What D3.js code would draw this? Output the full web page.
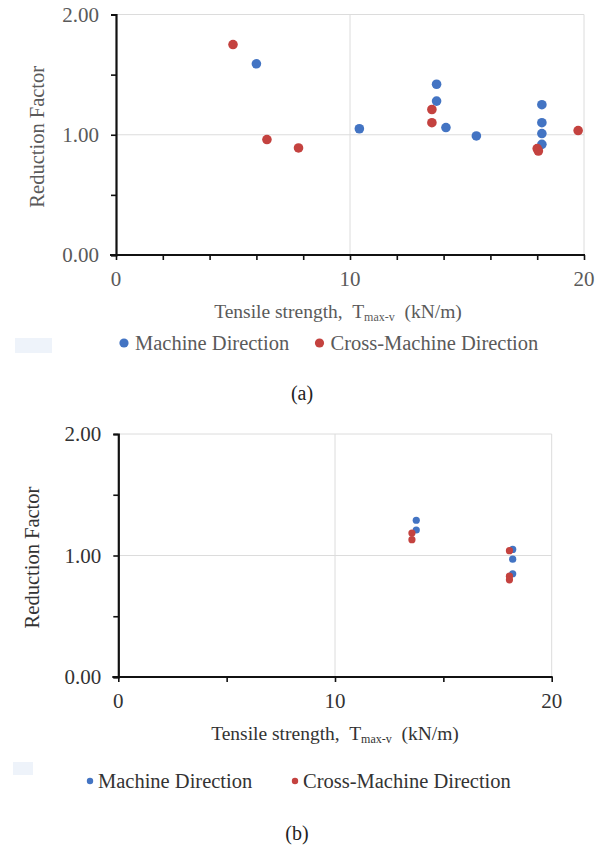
<!DOCTYPE html>
<html>
<head>
<meta charset="utf-8">
<script src="https://cdn.jsdelivr.net/npm/d3@7"></script>
<style>
  html, body { margin: 0; padding: 0; background: #fff; }
  svg { display: block; }
</style>
</head>
<body>
<svg id="fig" width="595" height="848"></svg>
<script>
// Reduction factor vs. tensile strength, two panels
const FONT = "'Liberation Serif', 'Times New Roman', Tinos, 'DejaVu Serif', serif";
const seriesNames = ["Machine Direction", "Cross-Machine Direction"];
const seriesColors = ["#4374c3", "#c4423f"];

// Panel (a)
const mdA_x  = [6.0, 10.4, 13.7, 13.7, 14.1, 15.4, 18.2, 18.2, 18.2, 18.2];
const mdA_y  = [1.59, 1.05, 1.42, 1.28, 1.06, 0.99, 1.25, 1.10, 1.01, 0.92];
const cmdA_x = [5.0, 6.45, 7.8, 13.5, 13.5, 18.0, 18.05, 19.75];
const cmdA_y = [1.75, 0.96, 0.89, 1.21, 1.10, 0.885, 0.865, 1.035];

// Panel (b)
const mdB_x  = [13.75, 13.75, 18.2, 18.2, 18.2];
const mdB_y  = [1.29, 1.21, 1.05, 0.97, 0.85];
const cmdB_x = [13.55, 13.55, 18.05, 18.05, 18.05];
const cmdB_y = [1.185, 1.13, 1.04, 0.83, 0.80];

const xDomain = [0, 20];
const yDomain = [0, 2];
const yTickValues = [0, 0.5, 1, 1.5, 2];
const yLabelValues = [0, 1, 2];
const xLabelA = [0, 10, 20];
const xLabelB = [0, 10, 20];
const xTicksA = d3.range(0, 21, 2);
const xTicksB = d3.range(0, 21, 5);

const svg = d3.select("#fig").attr("font-family", FONT);

function zip(xs, ys) { return xs.map((x, i) => ({ x, y: ys[i] })); }

function panel(cfg) {
  const g = svg.append("g");
  const x = d3.scaleLinear().domain(xDomain).range([cfg.left, cfg.right]);
  const y = d3.scaleLinear().domain(yDomain).range([cfg.bottom, cfg.top]);

  // gridlines
  g.selectAll(".hg").data(yLabelValues.filter(v => v > 0)).join("line")
    .attr("x1", cfg.left).attr("x2", cfg.right)
    .attr("y1", d => y(d)).attr("y2", d => y(d))
    .attr("stroke", "#dcdcdc").attr("stroke-width", 1);
  g.selectAll(".vg").data(cfg.xLabels.filter(v => v > 0)).join("line")
    .attr("x1", d => x(d)).attr("x2", d => x(d))
    .attr("y1", cfg.top).attr("y2", cfg.bottom)
    .attr("stroke", "#dcdcdc").attr("stroke-width", 1);

  // axes
  const yAxis = d3.axisLeft(y).tickValues(yTickValues).tickSize(5).tickFormat("");
  const xAxis = d3.axisBottom(x).tickValues(cfg.xTicks).tickSize(5).tickFormat("");
  const ya = g.append("g").attr("transform", `translate(${cfg.left},0)`).call(yAxis);
  const xa = g.append("g").attr("transform", `translate(0,${cfg.bottom})`).call(xAxis);
  [ya, xa].forEach(a => {
    a.select(".domain").attr("stroke", "#111").attr("stroke-width", 2.2);
    a.selectAll(".tick line").attr("stroke", "#111").attr("stroke-width", 1.6);
  });
  xa.select(".domain").attr("d", `M${cfg.left - 6},0H${cfg.right + 1}`);

  // tick labels
  g.selectAll(".yl").data(yLabelValues).join("text")
    .attr("x", cfg.left - 17).attr("y", d => y(d))
    .attr("dy", "0.35em").attr("text-anchor", "end")
    .attr("font-family", FONT)
    .attr("font-size", 21).attr("fill", cfg.textColor)
    .text(d => d.toFixed(2));
  g.selectAll(".xl").data(cfg.xLabels).join("text")
    .attr("x", d => x(d)).attr("y", cfg.bottom + 31)
    .attr("text-anchor", "middle")
    .attr("font-family", FONT)
    .attr("font-size", 21).attr("fill", cfg.textColor)
    .text(d => d);

  // axis titles
  g.append("text")
    .attr("transform", `translate(${cfg.yTitleX},${(cfg.top + cfg.bottom) / 2 + 2}) rotate(-90)`)
    .attr("dy", "0.35em").attr("text-anchor", "middle")
    .attr("font-family", FONT)
    .attr("font-size", 20.5).attr("fill", cfg.textColor)
    .text("Reduction Factor");
  const xt = g.append("text")
    .attr("x", cfg.xTitleX).attr("y", cfg.bottom + 63)
    .attr("text-anchor", "middle")
    .attr("font-family", FONT)
    .attr("xml:space", "preserve")
    .style("white-space", "pre")
    .attr("font-size", 19.5).attr("fill", cfg.textColor);
  xt.append("tspan").text("Tensile strength,  T");
  xt.append("tspan").attr("font-size", 12).attr("dy", 3).text("max-v");
  xt.append("tspan").attr("dy", -3).text("  (kN/m)");

  // points: machine direction first, cross-machine on top
  cfg.series.forEach((pts, i) => {
    g.append("g").selectAll("circle").data(pts).join("circle")
      .attr("cx", d => x(d.x)).attr("cy", d => y(d.y))
      .attr("r", cfg.r).attr("fill", seriesColors[i]);
  });

  // legend
  g.append("rect").attr("x", cfg.legendBox[0]).attr("y", cfg.legendBox[1])
    .attr("width", cfg.legendBox[2]).attr("height", cfg.legendBox[3])
    .attr("fill", "#eef3fa");
  seriesNames.forEach((name, i) => {
    g.append("circle").attr("cx", cfg.legendX[i]).attr("cy", cfg.legendY)
      .attr("r", cfg.legendR).attr("fill", seriesColors[i]);
    g.append("text").attr("x", cfg.legendX[i] + cfg.legendGap).attr("y", cfg.legendY)
      .attr("dy", "0.35em").attr("font-size", 20.5).attr("fill", cfg.textColor)
      .attr("font-family", FONT)
      .text(name);
  });

  // caption
  svg.append("text").attr("x", cfg.capX).attr("y", cfg.capY)
    .attr("dy", "0.35em").attr("text-anchor", "middle")
    .attr("font-family", FONT)
    .attr("font-size", 20).attr("fill", "#222")
    .text(cfg.caption);
}

panel({
  left: 116, right: 584, top: 14.5, bottom: 255,
  xTicks: xTicksA, xLabels: xLabelA,
  textColor: "#5a5a5a",
  yTitleX: 37, xTitleX: 338,
  series: [zip(mdA_x, mdA_y), zip(cmdA_x, cmdA_y)],
  r: 4.8,
  legendBox: [15, 338, 37, 15],
  legendX: [124, 319.5], legendY: 343, legendR: 4.6, legendGap: 11,
  capX: 302, capY: 393, caption: "(a)"
});

panel({
  left: 118.3, right: 551.7, top: 434, bottom: 677,
  xTicks: xTicksB, xLabels: xLabelB,
  textColor: "#333",
  yTitleX: 32, xTitleX: 335,
  series: [zip(mdB_x, mdB_y), zip(cmdB_x, cmdB_y)],
  r: 3.6,
  legendBox: [13, 762, 20, 13],
  legendX: [90, 295], legendY: 781, legendR: 3.2, legendGap: 8,
  capX: 297, capY: 833, caption: "(b)"
});
</script>
</body>
</html>
